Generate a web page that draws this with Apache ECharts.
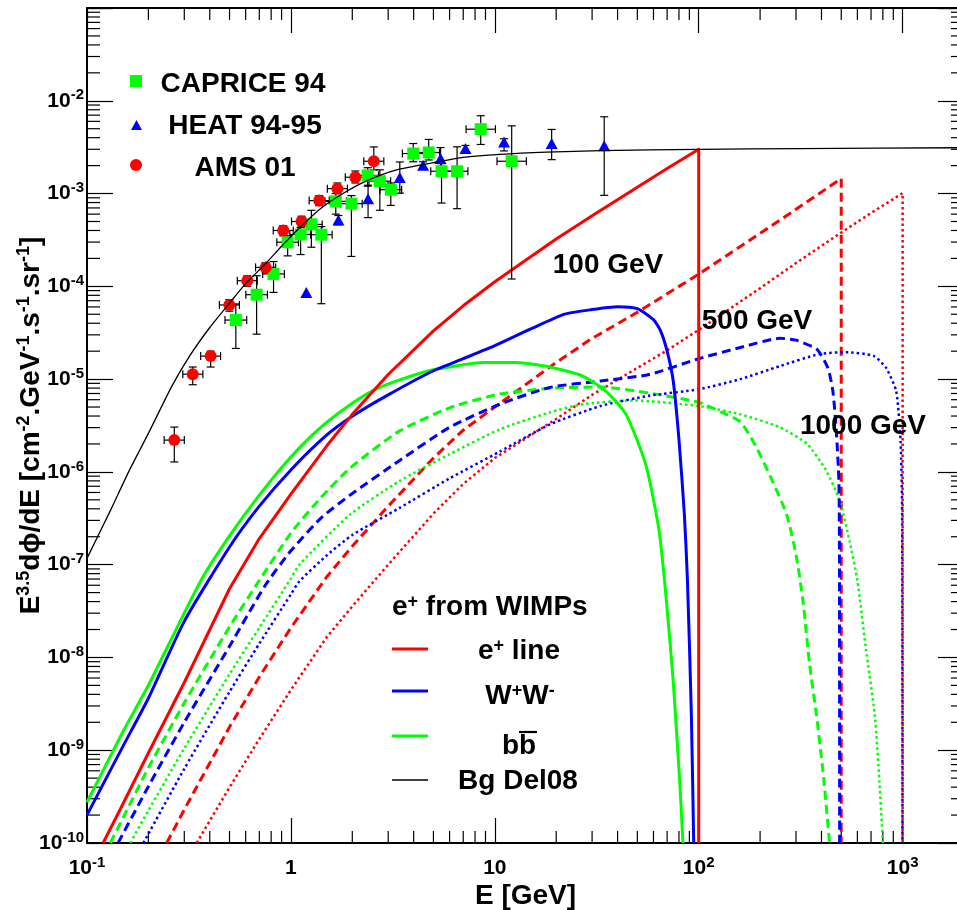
<!DOCTYPE html>
<html>
<head>
<meta charset="utf-8">
<script src="https://cdn.jsdelivr.net/npm/echarts@6/dist/echarts.min.js"></script>
<style>
  html, body { margin: 0; padding: 0; background: #fff; }
  #chart { width: 957px; height: 910px; }
</style>
</head>
<body>
<div id="chart"></div>
<script>
// ---- Measurements: positron flux E^3.5 dPhi/dE ----
const capriceE    = [0.537, 0.679, 0.822, 0.964, 1.116, 1.26, 1.41, 1.66, 1.98, 2.38, 2.73, 3.09, 3.98, 4.74, 5.48, 6.53, 8.53, 12.1];
const capriceFlux = [4.33e-5, 8.13e-5, 1.36e-4, 2.99e-4, 3.62e-4, 4.65e-4, 3.6e-4, 8.24e-4, 7.78e-4, 1.57e-3, 1.36e-3, 1.1e-3, 2.7e-3, 2.77e-3, 1.74e-3, 1.74e-3, 4.94e-3, 2.23e-3];
const capriceLo   = [2.14e-5, 3.05e-5, 8.6e-5, 2.13e-4, 2.2e-4, 2.64e-4, 6.5e-5, 6.0e-4, 2.1e-4, 1.2e-3, 6.6e-4, 7.45e-4, 2.2e-3, 2.3e-3, 7.9e-4, 6.87e-4, 3.38e-3, 1.2e-4];
const capriceHi   = [6.46e-5, 1.3e-4, 1.85e-4, 3.5e-4, 4.3e-4, 6.6e-4, 4.4e-4, 1.0e-3, 9.5e-4, 1.9e-3, 1.8e-3, 1.3e-3, 3.46e-3, 3.83e-3, 2.1e-3, 3.19e-3, 6.9e-3, 5.37e-3];
const capriceEmin = [0.475, 0.601, 0.727, 0.853, 0.988, 1.115, 1.248, 1.469, 1.752, 2.106, 2.416, 2.735, 3.522, 4.195, 4.85, 5.78, 7.23, 10.25];
const capriceEmax = [0.607, 0.767, 0.929, 1.089, 1.261, 1.424, 1.593, 1.876, 2.237, 2.689, 3.085, 3.492, 4.497, 5.356, 6.19, 7.38, 10.07, 14.28];

const heatE    = [1.19, 1.71, 2.39, 3.42, 4.45, 5.42, 7.18, 11.1, 19.0, 34.4];
const heatFlux = [8.6e-5, 5.2e-4, 8.8e-4, 1.49e-3, 2.02e-3, 2.38e-3, 3.05e-3, 3.6e-3, 3.46e-3, 3.27e-3];
const heatLo   = [8.6e-5, 4.6e-4, 5.5e-4, 1.01e-3, 1.85e-3, 1.78e-3, 2.85e-3, 2.88e-3, 2.32e-3, 9.57e-4];
const heatHi   = [8.6e-5, 5.8e-4, 1.23e-3, 2.19e-3, 2.2e-3, 3.13e-3, 3.3e-3, 3.9e-3, 4.91e-3, 6.72e-3];

const amsE    = [0.268, 0.33, 0.404, 0.499, 0.611, 0.752, 0.917, 1.128, 1.377, 1.69, 2.07, 2.55];
const amsFlux = [2.2e-6, 1.13e-5, 1.77e-5, 6.3e-5, 1.15e-4, 1.6e-4, 4.0e-4, 5.0e-4, 8.4e-4, 1.13e-3, 1.5e-3, 2.23e-3];
const amsLo   = [1.28e-6, 8.7e-6, 1.35e-5, 5.4e-5, 1.0e-4, 1.4e-4, 3.5e-4, 4.4e-4, 7.4e-4, 1.0e-3, 1.3e-3, 1.8e-3];
const amsHi   = [3.04e-6, 1.35e-5, 2.0e-5, 7.2e-5, 1.3e-4, 1.8e-4, 4.5e-4, 5.7e-4, 9.5e-4, 1.3e-3, 1.75e-3, 3.18e-3];
const amsEmin = [0.239, 0.295, 0.361, 0.446, 0.546, 0.671, 0.819, 1.007, 1.229, 1.509, 1.848, 2.277];
const amsEmax = [0.300, 0.370, 0.452, 0.559, 0.684, 0.842, 1.027, 1.263, 1.542, 1.893, 2.318, 2.856];

// ---- Background model (Bg Del08) ----
const bgE    = [0.1, 0.13, 0.16, 0.2, 0.26, 0.32, 0.4, 0.5, 0.6, 0.75, 0.9, 1.1, 1.4, 1.8, 2.35, 3.3, 5, 7, 10.6, 18, 33, 100, 310, 2000];
const bgFlux = [1.17e-7, 3.8e-7, 1.0e-6, 2.6e-6, 8.3e-6, 1.8e-5, 3.6e-5, 6.6e-5, 1.07e-4, 1.75e-4, 2.7e-4, 4.25e-4, 6.9e-4, 1.0e-3, 1.37e-3, 1.8e-3, 2.15e-3, 2.45e-3, 2.65e-3, 2.8e-3, 2.9e-3, 3.0e-3, 3.05e-3, 3.12e-3];

// ---- WIMP annihilation: e+ line ----
const lineE100  = [0.12, 0.15, 0.2, 0.3, 0.5, 0.7, 1, 1.5, 2, 3, 5, 7, 10, 20, 30, 50, 70, 100, 100];
const lineF100  = [1e-10, 2.63e-10, 9.33e-10, 5.37e-9, 5.5e-8, 1.91e-7, 5.75e-7, 1.91e-6, 4.17e-6, 1.12e-5, 3.31e-5, 6.17e-5, 1.12e-4, 3.24e-4, 5.75e-4, 1.17e-3, 1.86e-3, 3.0e-3, 1e-10];
const lineE500  = [0.246, 0.3, 0.5, 0.7, 1, 1.5, 2, 3, 5, 7, 10, 20, 30, 50, 70, 100, 200, 300, 500, 500];
const lineF500  = [1e-10, 2.29e-10, 1.78e-9, 6.17e-9, 2.09e-8, 7.41e-8, 1.58e-7, 4.27e-7, 1.41e-6, 2.82e-6, 5.01e-6, 1.51e-5, 2.75e-5, 5.25e-5, 8.32e-5, 1.35e-4, 3.72e-4, 6.76e-4, 1.45e-3, 1e-10];
const lineE1000 = [0.345, 0.5, 0.7, 1, 1.5, 2, 3, 5, 7, 10, 20, 30, 50, 70, 100, 200, 300, 500, 700, 1000, 1000];
const lineF1000 = [1e-10, 3.98e-10, 1.32e-9, 4.47e-9, 1.66e-8, 3.55e-8, 1.0e-7, 3.55e-7, 7.41e-7, 1.41e-6, 3.72e-6, 6.76e-6, 1.32e-5, 2.04e-5, 3.39e-5, 9.55e-5, 1.78e-4, 3.8e-4, 6.17e-4, 1.01e-3, 1e-10];

// ---- W+W- ----
const wwE100  = [0.1, 0.15, 0.2, 0.3, 0.5, 0.7, 1, 1.5, 2, 3, 5, 7, 10, 15, 22, 30, 40, 50, 60, 65, 70, 75, 80, 85, 88, 92, 94.5];
const wwF100  = [2.0e-10, 1.1e-9, 3.63e-9, 2.45e-8, 1.55e-7, 4.27e-7, 1.05e-6, 2.5e-6, 3.98e-6, 6.76e-6, 1.23e-5, 1.66e-5, 2.29e-5, 3.47e-5, 5.01e-5, 5.62e-5, 6.03e-5, 5.75e-5, 4.37e-5, 3.31e-5, 2.0e-5, 9.55e-6, 2.24e-6, 3.55e-7, 7.08e-8, 2.51e-9, 1e-10];
const wwE500  = [0.142, 0.2, 0.3, 0.5, 0.75, 1, 1.4, 1.95, 3.4, 6, 10.6, 18.6, 33, 57, 100, 160, 250, 300, 380, 430, 455, 473, 487, 490, 491];
const wwF500  = [1e-10, 4.07e-10, 2.0e-9, 1.32e-8, 6.03e-8, 1.41e-7, 3.16e-7, 5.62e-7, 1.32e-6, 3.02e-6, 5.37e-6, 8.13e-6, 9.55e-6, 1.12e-5, 1.66e-5, 2.19e-5, 2.75e-5, 2.63e-5, 2.09e-5, 1.32e-5, 7.41e-6, 2.75e-6, 7.94e-7, 1.51e-7, 1e-10];
const wwE1000 = [0.189, 0.3, 0.5, 0.7, 1, 1.1, 1.5, 2, 3.4, 6, 10.6, 18.6, 33, 57, 100, 160, 250, 390, 530, 720, 830, 930, 977, 995, 998];
const wwF1000 = [1e-10, 6.31e-10, 4.27e-9, 1.41e-8, 4.79e-8, 6.61e-8, 1.26e-7, 2.09e-7, 4.07e-7, 8.51e-7, 1.66e-6, 3.24e-6, 5.13e-6, 6.61e-6, 7.76e-6, 1.0e-5, 1.38e-5, 1.86e-5, 1.95e-5, 1.78e-5, 1.32e-5, 7.41e-6, 2.14e-6, 3.47e-7, 1e-10];

// ---- b bbar ----
const bbE100  = [0.1, 0.15, 0.2, 0.36, 0.5, 0.7, 1, 1.4, 2, 2.6, 3.5, 5, 8.8, 12.8, 18.6, 27, 35, 44, 55, 64, 69.5, 75, 80.7, 83.7];
const bbF100  = [2.75e-10, 1.58e-9, 5.01e-9, 6.61e-8, 2.04e-7, 5.62e-7, 1.45e-6, 3.02e-6, 5.5e-6, 7.76e-6, 1.0e-5, 1.26e-5, 1.51e-5, 1.51e-5, 1.35e-5, 1.08e-5, 7.41e-6, 4.17e-6, 1.2e-6, 2.29e-7, 3.98e-8, 5.5e-9, 4.57e-10, 1e-10];
const bbE500  = [0.13, 0.15, 0.2, 0.3, 0.5, 0.7, 1, 1.4, 1.95, 3.4, 6, 10.6, 18.6, 33, 57, 100, 130, 160, 190, 230, 270, 300, 325, 350, 378, 410, 438];
const bbF500  = [1e-10, 1.86e-10, 6.46e-10, 3.24e-9, 2.14e-8, 6.76e-8, 2.19e-7, 5.25e-7, 1.1e-6, 2.75e-6, 4.9e-6, 6.92e-6, 7.94e-6, 8.22e-6, 7.08e-6, 5.62e-6, 4.37e-6, 3.47e-6, 1.91e-6, 7.94e-7, 3.47e-7, 1.29e-7, 3.98e-8, 8.32e-9, 2.4e-9, 5.01e-10, 1e-10];
const bbE1000 = [0.163, 0.2, 0.3, 0.5, 0.7, 1, 1.1, 1.95, 3.4, 6, 10.6, 18.6, 27, 48, 100, 160, 250, 340, 420, 490, 550, 600, 660, 730, 770, 800];
const bbF1000 = [1e-10, 2.24e-10, 1.05e-9, 6.61e-9, 2.09e-8, 7.08e-8, 1e-7, 3.47e-7, 7.94e-7, 1.55e-6, 2.88e-6, 4.37e-6, 5.37e-6, 5.89e-6, 5.13e-6, 4.17e-6, 3.02e-6, 2.0e-6, 1.05e-6, 5.01e-7, 1.78e-7, 6.76e-8, 1.26e-8, 2.4e-9, 4.57e-10, 1e-10];

// ---- Axis ticks ----
const xTickValues = [0.1, 1, 10, 100, 1000];
const xTickLabels = [['10', '-1'], ['1', ''], ['10', ''], ['10', '2'], ['10', '3']];
const yTickValues = [1e-10, 1e-9, 1e-8, 1e-7, 1e-6, 1e-5, 1e-4, 1e-3, 1e-2];
const yTickLabels = [['10', '-10'], ['10', '-9'], ['10', '-8'], ['10', '-7'], ['10', '-6'], ['10', '-5'], ['10', '-4'], ['10', '-3'], ['10', '-2']];
const minorSteps  = [2, 3, 4, 5, 6, 7, 8, 9];

const X_MIN = 0.1, X_MAX = 2000, Y_MIN = 1e-10, Y_MAX = 0.1;

const FONT = '"Liberation Sans", Arial, Helvetica, sans-serif';
const GREEN = '#00ff00', BLUE = '#0000ff', RED = '#ff0000';

const pairs = (xs, ys) => xs.map((x, i) => [x, ys[i]]);

function tickFormatter(values, labels) {
  return function (v) {
    const lv = Math.log10(v);
    for (let i = 0; i < values.length; i++) {
      if (Math.abs(lv - Math.log10(values[i])) < 1e-6) {
        const [m, e] = labels[i];
        return e ? '{b|' + m + '}{s|' + e + '}' : '{b|' + m + '}';
      }
    }
    return '';
  };
}

const tickRich = {
  b: { fontFamily: FONT, fontSize: 21, fontWeight: 'bold', color: '#000', lineHeight: 26 },
  s: { fontFamily: FONT, fontSize: 15, fontWeight: 'bold', color: '#000', verticalAlign: 'top', lineHeight: 16 }
};

// minor tick positions (2..9 within each decade)
const xMinor = [], yMinor = [];
xTickValues.forEach(d => minorSteps.forEach(m => { const v = d * m; if (v < X_MAX) xMinor.push([v, 1e-5]); }));
yTickValues.forEach(d => minorSteps.forEach(m => { const v = d * m; if (v < Y_MAX) yMinor.push([1, v]); }));

const tickStyle = { stroke: '#000', lineWidth: 1.2 };

function xMinorRender(params, api) {
  const cs = params.coordSys;
  const px = api.coord([api.value(0), api.value(1)])[0];
  const bot = cs.y + cs.height, top = cs.y;
  return { type: 'group', children: [
    { type: 'line', shape: { x1: px, y1: bot, x2: px, y2: bot - 12 }, style: tickStyle },
    { type: 'line', shape: { x1: px, y1: top, x2: px, y2: top + 12 }, style: tickStyle }
  ] };
}
function yMinorRender(params, api) {
  const cs = params.coordSys;
  const py = api.coord([api.value(0), api.value(1)])[1];
  const left = cs.x, right = cs.x + cs.width;
  return { type: 'group', children: [
    { type: 'line', shape: { x1: left, y1: py, x2: left + 13, y2: py }, style: tickStyle },
    { type: 'line', shape: { x1: right, y1: py, x2: right - 13, y2: py }, style: tickStyle }
  ] };
}

// error bars: [E, flux, fluxLo, fluxHi, Emin, Emax]
function errorData(E, F, lo, hi, emin, emax) {
  return E.map((e, i) => [e, F[i], lo[i], hi[i], emin ? emin[i] : 0, emax ? emax[i] : 0]);
}
function errorRender(params, api) {
  const x = api.value(0), y = api.value(1), yl = api.value(2), yh = api.value(3), xl = api.value(4), xh = api.value(5);
  const p = api.coord([x, y]);
  const st = { stroke: '#000', lineWidth: 1.2 };
  const ch = [];
  const cap = 4;
  if (yh > yl) {
    const pl = api.coord([x, yl]), ph = api.coord([x, yh]);
    ch.push({ type: 'line', shape: { x1: p[0], y1: pl[1], x2: p[0], y2: ph[1] }, style: st });
    if (yl < y) ch.push({ type: 'line', shape: { x1: p[0] - cap, y1: pl[1], x2: p[0] + cap, y2: pl[1] }, style: st });
    if (yh > y) ch.push({ type: 'line', shape: { x1: p[0] - cap, y1: ph[1], x2: p[0] + cap, y2: ph[1] }, style: st });
  }
  if (xl > 0 && xh > 0) {
    const ql = api.coord([xl, y]), qh = api.coord([xh, y]);
    ch.push({ type: 'line', shape: { x1: ql[0], y1: p[1], x2: qh[0], y2: p[1] }, style: st });
    ch.push({ type: 'line', shape: { x1: ql[0], y1: p[1] - cap, x2: ql[0], y2: p[1] + cap }, style: st });
    ch.push({ type: 'line', shape: { x1: qh[0], y1: p[1] - cap, x2: qh[0], y2: p[1] + cap }, style: st });
  }
  return { type: 'group', children: ch };
}

const DASH = [9, 5], DOT = [2.5, 3];
function curve(name, E, F, color, type, width, z, smooth) {
  return {
    name, type: 'line', data: pairs(E, F), showSymbol: false, symbol: 'none', smooth: smooth || false,
    lineStyle: { color, width, type, join: 'round' }, z, silent: true, animation: false, clip: true
  };
}

function baseAxis(extra) {
  return Object.assign({
    type: 'log', logBase: 10,
    splitLine: { show: false }, minorTick: { show: false },
    axisLine: { show: true, onZero: false, lineStyle: { color: '#000', width: 2 } }
  }, extra);
}

const richBig = {
  a: { fontFamily: FONT, fontSize: 28, fontWeight: 'bold', fill: '#000', color: '#000' },
  s: { fontFamily: FONT, fontSize: 18, fontWeight: 'bold', fill: '#000', color: '#000', verticalAlign: 'top' }
};
function txt(x, y, text, align) {
  return { type: 'text', x, y, silent: true, z: 100,
    style: { text, rich: richBig, fill: '#000', font: 'bold 28px ' + FONT,
      align: align || 'center', textAlign: align || 'center', verticalAlign: 'middle', textVerticalAlign: 'middle' } };
}
function seg(x1, y1, x2, y2, color, w) {
  return { type: 'line', silent: true, z: 100, shape: { x1, y1, x2, y2 }, style: { stroke: color, lineWidth: w } };
}

const option = {
  backgroundColor: '#fff',
  animation: false,
  grid: { left: 87, top: 8, width: 877, height: 835, containLabel: false, outerBoundsMode: 'none' },
  xAxis: [
    baseAxis({
      position: 'bottom', min: X_MIN, max: X_MAX,
      axisTick: { show: true, inside: true, length: 25, lineStyle: { color: '#000', width: 1.2 } },
      axisLabel: { show: true, margin: 12, formatter: tickFormatter(xTickValues, xTickLabels), rich: tickRich, showMinLabel: true, showMaxLabel: true, hideOverlap: false },
      name: 'E [GeV]', nameLocation: 'middle', nameGap: 39, nameMoveOverlap: false,
      nameTextStyle: { fontFamily: FONT, fontSize: 28, fontWeight: 'bold', color: '#000' }
    }),
    baseAxis({
      position: 'top', min: X_MIN, max: X_MAX,
      axisTick: { show: true, inside: true, length: 25, lineStyle: { color: '#000', width: 1.2 } },
      axisLabel: { show: false }
    })
  ],
  yAxis: [
    baseAxis({
      position: 'left', min: Y_MIN, max: Y_MAX,
      axisTick: { show: true, inside: true, length: 26, lineStyle: { color: '#000', width: 1.2 } },
      axisLabel: { show: true, margin: 3, formatter: tickFormatter(yTickValues, yTickLabels), rich: tickRich, showMinLabel: true, showMaxLabel: true, hideOverlap: false },
      name: '{m|E}{s|3.5}{m|d\u03d5/dE [cm}{s|-2}{m|.GeV}{s|-1}{m|.s}{s|-1}{m|.sr}{s|-1}{m|]}',
      nameLocation: 'middle', nameRotate: 90, nameGap: 40, nameMoveOverlap: false,
      nameTextStyle: {
        fontFamily: FONT, fontSize: 28, fontWeight: 'bold', color: '#000',
        rich: {
          m: { fontFamily: FONT, fontSize: 28, fontWeight: 'bold', color: '#000', lineHeight: 32 },
          s: { fontFamily: FONT, fontSize: 18, fontWeight: 'bold', color: '#000', verticalAlign: 'top', lineHeight: 20 }
        }
      }
    }),
    baseAxis({
      position: 'right', min: Y_MIN, max: Y_MAX,
      axisTick: { show: true, inside: true, length: 26, lineStyle: { color: '#000', width: 1.2 } },
      axisLabel: { show: false }
    })
  ],
  series: [
    { type: 'custom', name: 'xMinorTicks', data: xMinor, renderItem: xMinorRender, encode: { x: 0, y: 1 }, silent: true, z: 1, animation: false },
    { type: 'custom', name: 'yMinorTicks', data: yMinor, renderItem: yMinorRender, encode: { x: 0, y: 1 }, silent: true, z: 1, animation: false },

    curve('e+ line 1000', lineE1000, lineF1000, RED, DOT, 2.5, 2),
    curve('e+ line 500', lineE500, lineF500, RED, DASH, 3, 2),
    curve('bb 1000', bbE1000, bbF1000, GREEN, DOT, 2.5, 2, 0.2),
    curve('bb 500', bbE500, bbF500, GREEN, DASH, 3, 2, 0.2),
    curve('WW 1000', wwE1000, wwF1000, BLUE, DOT, 2.5, 2, 0.2),
    curve('WW 500', wwE500, wwF500, BLUE, DASH, 3, 2, 0.2),
    curve('bb 100', bbE100, bbF100, GREEN, 'solid', 3, 2, 0.2),
    curve('WW 100', wwE100, wwF100, BLUE, 'solid', 3, 2, 0.2),
    curve('e+ line 100', lineE100, lineF100, RED, 'solid', 3, 2),

    { type: 'custom', name: 'errCAPRICE', data: errorData(capriceE, capriceFlux, capriceLo, capriceHi, capriceEmin, capriceEmax), renderItem: errorRender, encode: { x: 0, y: 1 }, silent: true, z: 3, animation: false },
    { type: 'custom', name: 'errHEAT', data: errorData(heatE, heatFlux, heatLo, heatHi, null, null), renderItem: errorRender, encode: { x: 0, y: 1 }, silent: true, z: 3, animation: false },
    { type: 'custom', name: 'errAMS', data: errorData(amsE, amsFlux, amsLo, amsHi, amsEmin, amsEmax), renderItem: errorRender, encode: { x: 0, y: 1 }, silent: true, z: 3, animation: false },

    { type: 'scatter', name: 'CAPRICE 94', data: pairs(capriceE, capriceFlux), symbol: 'rect', symbolSize: 12, itemStyle: { color: GREEN, opacity: 1 }, z: 4, silent: true, animation: false },
    { type: 'scatter', name: 'HEAT 94-95', data: pairs(heatE, heatFlux), symbol: 'triangle', symbolSize: [12, 11], itemStyle: { color: BLUE, opacity: 1 }, z: 4, silent: true, animation: false },
    { type: 'scatter', name: 'AMS 01', data: pairs(amsE, amsFlux), symbol: 'circle', symbolSize: 12, itemStyle: { color: RED, opacity: 1 }, z: 4, silent: true, animation: false },

    curve('Bg Del08', bgE, bgFlux, '#000', 'solid', 1.3, 5, 0.2)
  ],
  graphic: [
    // data legend
    { type: 'rect', silent: true, z: 100, shape: { x: 130, y: 75, width: 12, height: 12 }, style: { fill: GREEN } },
    { type: 'polygon', silent: true, z: 100, shape: { points: [[136.5, 120], [142, 130], [131, 130]] }, style: { fill: BLUE } },
    { type: 'circle', silent: true, z: 100, shape: { cx: 136, cy: 165, r: 6 }, style: { fill: RED } },
    txt(243, 84, '{a|CAPRICE 94}'),
    txt(245, 126, '{a|HEAT 94-95}'),
    txt(245, 168, '{a|AMS 01}'),

    // mass labels
    txt(608, 265, '{a|100 GeV}'),
    txt(757, 321, '{a|500 GeV}'),
    txt(863, 426, '{a|1000 GeV}'),

    // model legend
    txt(392, 607, '{a|e}{s|+}{a| from WIMPs}', 'left'),
    seg(392, 649, 428, 649, RED, 3),
    seg(392, 691, 428, 691, BLUE, 3),
    seg(392, 736, 428, 736, GREEN, 3),
    seg(392, 780, 428, 780, '#000', 1.3),
    txt(519, 651, '{a|e}{s|+}{a| line}'),
    txt(520, 696, '{a|W}{s|+}{a|W}{s|-}'),
    txt(519, 746, '{a|bb}'),
    seg(519, 732, 537, 732, '#000', 2.2),
    txt(518, 781, '{a|Bg Del08}')
  ]
};

const chart = echarts.init(document.getElementById('chart'));
chart.setOption(option);
</script>
</body>
</html>
